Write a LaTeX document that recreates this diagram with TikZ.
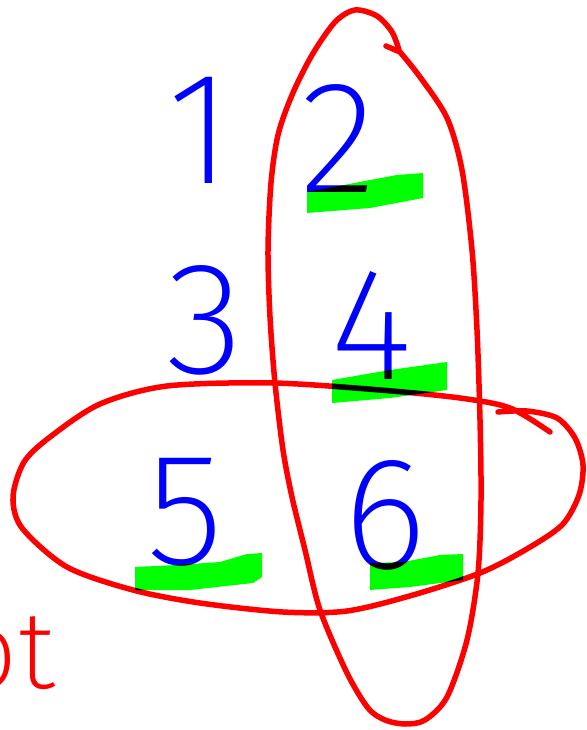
\documentclass[tikz,border=0pt]{standalone}
\usepackage{fontspec}
\usepackage{xcolor}
\usepackage{tikz}
\newfontfamily\pluma{Fira Sans ExtraLight}
\definecolor{Tinta}   {RGB}{0,  0,  255}
\definecolor{Rojo}    {RGB}{255,0,  0}
\definecolor{Resalte} {RGB}{0,  255,0}

\begin{document}
\begin{tikzpicture}[x=1pt,y=-1pt,
    digito/.style={text=Tinta,font=\pluma\fontsize{160}{160}\selectfont,inner sep=0pt},
    lazo/.style={draw=Rojo,line width=5.5pt,line cap=round,line join=round},
    resalte/.style={fill=Resalte,draw=none}]
  \useasboundingbox (0,0) rectangle (586,730);
  \clip (0,0) rectangle (586,730);
  \foreach \n/\x/\y in {1/200/130,2/338/138,3/205/320,4/372/325,5/185/512,6/385/515}{
    \node[digito] (d\n) at (\x,\y) {\n};
  }
  \node[text=Rojo,font=\pluma\fontsize{110}{110}\selectfont,inner sep=0pt,anchor=base east] (nota) at (55,688) {ot};
  % lazo vertical: 2, 4, 6
  \draw[lazo] (386,46) -- plot[smooth] coordinates {(400,52) (420,77) (447,118) (462,170) (472,250) (477,330)
      (480,420) (481,500) (478,573) (467,640) (447,697) (425,720) (405,724) (385,720) (368,708) (347,673)
      (320,610) (305,550) (292,497) (283,450) (275,383) (270,317) (268,250) (271,183) (278,135) (292,95)
      (312,55) (335,22) (355,10) (377,16) (392,32) (399,50)};
  % lazo horizontal: 5, 6
  \draw[lazo] plot[smooth] coordinates {(498,412) (527,411) (557,418) (575,438) (583,465) (579,495) (562,525)
      (525,550) (480,573) (413,595) (347,611) (283,612) (200,603) (133,590) (67,567) (22,528) (13,497)
      (24,462) (50,437) (100,404) (167,386) (273,383) (380,390) (460,398) (510,408) (550,432)};
  \begin{scope}[blend mode=multiply]
    \fill[resalte] (307,192) -- (370,180) -- (397,175) -- (423,173) -- (423,198) -- (370,208) -- (307,213) -- cycle;
    \fill[resalte] (332,380) -- (390,370) -- (447,362) -- (447,390) -- (390,398) -- (332,403) -- cycle;
    \fill[resalte] (135,567) -- (177,565) -- (220,562) -- (247,554) -- (262,553) -- (262,577) -- (253,583)
      -- (190,590) -- (135,590) -- cycle;
    \fill[resalte] (370,563) -- (403,562) -- (440,555) -- (463,554) -- (463,580) -- (410,587) -- (370,590) -- cycle;
  \end{scope}
\end{tikzpicture}
\end{document}
